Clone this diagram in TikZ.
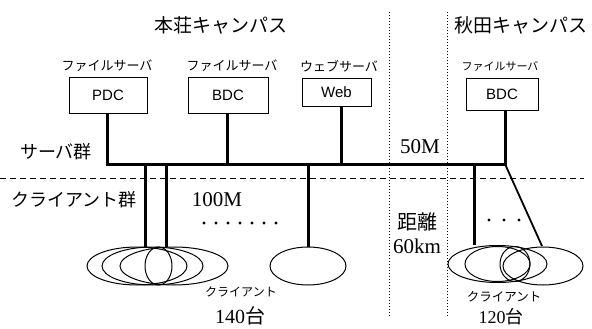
\documentclass[tikz,border=0pt]{standalone}
\usepackage{fontspec}
\setmainfont{Liberation Serif}
\newfontfamily\jp{Noto Sans CJK JP}
\newfontfamily\sans{Liberation Sans}
\usetikzlibrary{shapes.geometric}
\begin{document}
\begin{tikzpicture}[x=1pt,y=-1pt,
  srv/.style={draw,line width=0.9pt,inner sep=0pt,font=\sans\fontsize{15}{15}\selectfont},
  thick line/.style={line width=3pt},
  cli/.style={draw,ellipse,line width=1pt,inner sep=0pt},
  lbl/.style={inner sep=0pt},
  vdot/.style={line width=1pt,dotted},
  sep/.style={line width=0.9pt,dash pattern=on 6pt off 4pt}]
\useasboundingbox (0,0) rectangle (592,329);
% titles
\node[lbl,font=\jp\fontsize{19}{19}\selectfont] (t1) at (221,25) {本荘キャンパス};
\node[lbl,font=\jp\fontsize{19}{19}\selectfont] (t2) at (521,25) {秋田キャンパス};
% server labels
\node[lbl,font=\jp\fontsize{13}{13}\selectfont] (f1) at (107,66) {ファイルサーバ};
\node[lbl,font=\jp\fontsize{13}{13}\selectfont] (f2) at (232,66) {ファイルサーバ};
\node[lbl,font=\jp\fontsize{13}{13}\selectfont] (f3) at (339,66) {ウェブサーバ};
\node[lbl,font=\jp\fontsize{11}{11}\selectfont] (f4) at (500,66) {ファイルサーバ};
% servers
\node[srv,minimum width=78pt,minimum height=36pt] (pdc) at (108,95) {PDC};
\node[srv,minimum width=80pt,minimum height=36pt] (bdc) at (228,95) {BDC};
\node[srv,minimum width=69pt,minimum height=28pt] (web) at (336.5,92) {Web};
\node[srv,minimum width=72pt,minimum height=32pt] (bdc2) at (502,94) {BDC};
% bus coordinates
\coordinate (bp) at (107,164);
\coordinate (bb) at (227,164);
\coordinate (bw) at (341,164);
\coordinate (ba) at (505,164);
\coordinate (c1) at (145,164);
\coordinate (c2) at (166,164);
\coordinate (c3) at (308,164);
\coordinate (c4) at (474,164);
% separators
\draw[sep] (0,178) -- (584,178);
\draw[vdot] (389,12) -- (389,317);
\draw[vdot] (447,12) -- (447,317);
% clients left
\node[cli,minimum width=100pt,minimum height=38pt] (e1) at (137,266) {};
\node[cli,minimum width=101pt,minimum height=38pt] (e2) at (152.5,266) {};
\node[cli,minimum width=108pt,minimum height=38pt] (e3) at (174,266) {};
\node[cli,minimum width=27pt,minimum height=38pt] (e4) at (158.5,266) {};
% web client
\node[cli,minimum width=76pt,minimum height=38pt] (e5) at (308,266) {};
% akita clients
\node[cli,minimum width=99pt,minimum height=37pt] (a1) at (497.5,264) {};
\node[cli,minimum width=65pt,minimum height=35pt] (a2) at (497.5,264) {};
\node[cli,minimum width=30pt,minimum height=35pt] (a3) at (515,264) {};
\node[cli,minimum width=80pt,minimum height=38pt] (a4) at (543,266) {};
% thick lines
\draw[thick line] (pdc.south -| bp) -- (bp) -- (ba) -- (bdc2.south -| ba);
\draw[thick line] (bdc.south -| bb) -- (bb);
\draw[thick line] (web.south -| bw) -- (bw);
\draw[thick line] (c1) -- (c1 |- e3.north);
\draw[thick line] (c2) -- (c2 |- e3.north);
\draw[thick line] (c3) -- (e5.north);
\draw[thick line] (c4) -- (c4 |- a1.north);
\coordinate (dend) at (542,246);
\draw[line width=1.8pt] (ba) -- (dend);
% labels
\node[lbl,font=\jp\fontsize{18}{18}\selectfont] (sg) at (56,152) {サーバ群};
\node[lbl,font=\jp\fontsize{18}{18}\selectfont] (cg) at (74,200) {クライアント群};
\node[lbl,font=\fontsize{21}{21}\selectfont] (m100) at (217,200) {100M};
\node[lbl,font=\fontsize{21}{21}\selectfont] (m50) at (420,147) {50M};
\node[lbl,font=\jp\fontsize{20}{20}\selectfont] (kyori) at (417,222) {距離};
\node[lbl,font=\fontsize{21}{21}\selectfont] (km) at (417,246) {60km};
\foreach \i in {0,...,6} \fill (204+\i*12,223) circle (1.6pt);
\foreach \i in {0,...,2} \fill (489+\i*15,220) circle (1.6pt);
\node[lbl,font=\jp\fontsize{12}{12}\selectfont] (cl1) at (241,292) {クライアント};
\node[lbl,font=\fontsize{20}{20}\selectfont] (n1) at (240,316) {140{\jp 台}};
\node[lbl,font=\jp\fontsize{12.5}{12.5}\selectfont] (cl2) at (504,297) {クライアント};
\node[lbl,font=\fontsize{18}{18}\selectfont] (n2) at (501,317) {120{\jp 台}};
\end{tikzpicture}
\end{document}
